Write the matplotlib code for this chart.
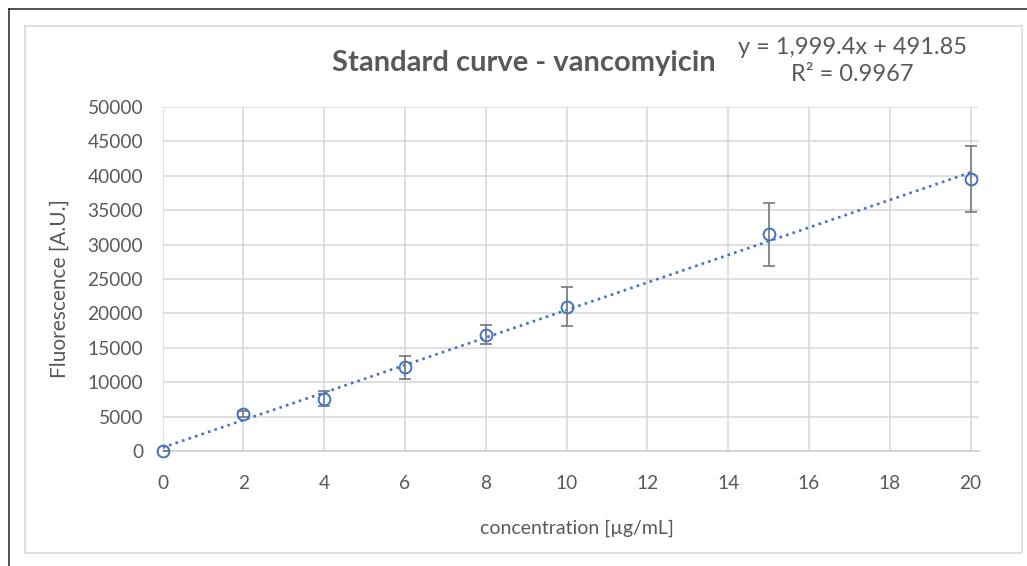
import matplotlib
matplotlib.use("Agg")
import matplotlib.pyplot as plt
from matplotlib.patches import Rectangle
from matplotlib.lines import Line2D
import numpy as np

plt.rcParams['font.family'] = ['Lato', 'DejaVu Sans']

concentration = [0, 2, 4, 6, 8, 10, 15, 20]
fluorescence = [0, 5350, 7600, 12150, 16900, 21000, 31500, 39600]
errors = [0, 400, 1060, 1650, 1400, 2900, 4600, 4800]
slope = 1999.4
intercept = 491.85
r_squared = 0.9967
x_ticks = [0, 2, 4, 6, 8, 10, 12, 14, 16, 18, 20]
y_ticks = [0, 5000, 10000, 15000, 20000, 25000, 30000, 35000, 40000, 45000, 50000]

W, H = 1027, 566
fig = plt.figure(figsize=(W / 100, H / 100), dpi=100)
fig.patch.set_facecolor('white')

# outer dark border (left & top) and chart area border
fig.add_artist(Line2D([8.5 / W, 8.5 / W], [0, 1 - 9 / H], transform=fig.transFigure, color='#333333', lw=1.2))
fig.add_artist(Line2D([8.5 / W, 1], [1 - 9 / H, 1 - 9 / H], transform=fig.transFigure, color='#333333', lw=1.2))
fig.add_artist(Rectangle((25 / W, 1 - 553 / H), (1022 - 25) / W, (553 - 26) / H,
                         transform=fig.transFigure, fill=False, edgecolor='#D9D9D9', lw=1.2))

left, right, top, bottom = 162.5, 979, 107, 451
ax = fig.add_axes([left / W, 1 - bottom / H, (right - left) / W, (bottom - top) / H])

text_col = '#595959'
blue = '#4472C4'

ax.set_xlim(0, 20 * (right - left) / (970.5 - left))
ax.set_ylim(0, 50000)
ax.set_xticks(x_ticks)
ax.set_yticks(y_ticks)
ax.set_xticklabels([str(v) for v in x_ticks])
ax.set_yticklabels([str(v) for v in y_ticks])
ax.grid(True, color='#D9D9D9', lw=1.2)
ax.set_axisbelow(True)
for s in ['top', 'right', 'left']:
    ax.spines[s].set_visible(False)
ax.spines['bottom'].set_color('#D0D0D0')
ax.spines['bottom'].set_linewidth(1.2)
ax.tick_params(length=0, labelsize=13.8, colors=text_col, pad=14)
ax.tick_params(axis='x', pad=17)

# trend line
xt = np.array([concentration[0], concentration[-1]])
ax.plot(xt, slope * xt + intercept, color=blue, lw=1.9, linestyle=(0, (1, 1.6)), zorder=2)

ax.errorbar(concentration, fluorescence, yerr=errors, fmt='none', ecolor='#808080',
            elinewidth=1.3, capsize=4.5, capthick=1.3, zorder=3)
ax.plot(concentration, fluorescence, linestyle='none', marker='o', markersize=8.5,
        markerfacecolor='none', markeredgecolor=blue, markeredgewidth=1.4, zorder=4, clip_on=False)

fig.text(524 / W, 1 - 63 / H, 'Standard curve - vancomyicin', ha='center', va='center',
         fontsize=21, fontweight='bold', color=text_col)
fig.text(852 / W, 1 - 61 / H, f'y = {slope:,.1f}x + {intercept}\nR² = {r_squared}', ha='center', va='center',
         fontsize=17, color=text_col, linespacing=1.35)

ax.set_ylabel('Fluorescence [A.U.]', fontsize=15, color=text_col)
ax.yaxis.set_label_coords((60 - left) / (right - left), (bottom - 289) / (bottom - top))
ax.yaxis.label.set_va('center')
ax.set_xlabel('concentration [µg/mL]', fontsize=14, color=text_col)
ax.xaxis.set_label_coords((577 - left) / (right - left), -(528 - bottom) / (bottom - top))
ax.xaxis.label.set_va('center')

fig.savefig('out.png', dpi=100)
